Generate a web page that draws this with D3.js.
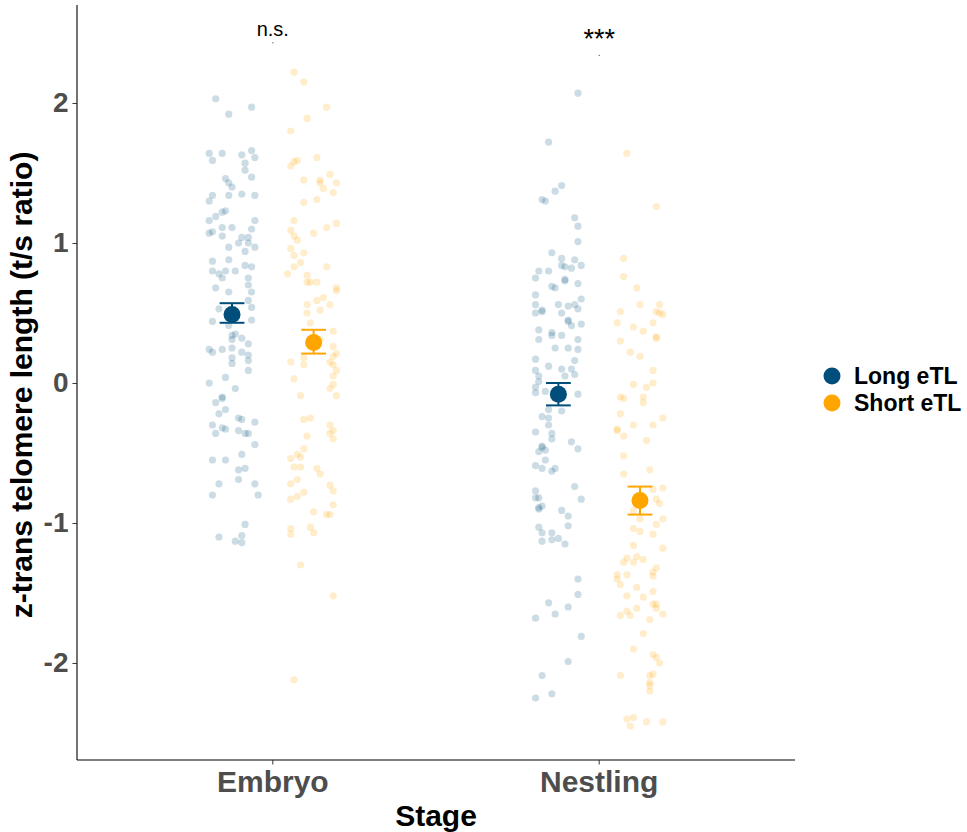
<!DOCTYPE html>
<html>
<head>
<meta charset="utf-8">
<script src="https://cdn.jsdelivr.net/npm/d3@7"></script>
<style>
	body { margin: 0; background: #fff; }
	svg { display: block; font-family: "Liberation Sans", Arial, sans-serif; }
</style>
</head>
<body>
<svg id="chart" width="967" height="832"></svg>
<script>
const stages = ["Embryo", "Nestling"];
const groups = ["Long eTL", "Short eTL"];
const groupColors = ["#004E7C", "#FFA500"];

// raw points: [jitter (x units), z-trans telomere length]
const embryoLong = [
	[-0.05, 2.03], [0.06, 1.97], [-0.01, 1.92], [-0.07, 1.64], [-0.03, 1.64], [0.03, 1.63], [0.06, 1.66],
	[-0.06, 1.59], [0.07, 1.61], [0.04, 1.57], [0.04, 1.52], [-0.02, 1.46], [0.06, 1.47], [-0.01, 1.43],
	[0.0, 1.4], [-0.06, 1.34], [-0.07, 1.3], [-0.01, 1.34], [0.03, 1.35], [0.07, 1.34], [-0.02, 1.23],
	[-0.03, 1.22], [-0.05, 1.19], [-0.07, 1.16], [0.07, 1.16], [0.0, 1.11], [-0.03, 1.11], [0.06, 1.1],
	[-0.07, 1.07], [-0.06, 1.08], [-0.03, 1.05], [0.03, 1.04], [0.05, 1.04], [0.02, 1.0], [0.05, 1.0],
	[0.07, 0.97], [-0.01, 0.97], [0.04, 0.94], [-0.06, 0.87], [-0.01, 0.88], [0.04, 0.84], [0.06, 0.83],
	[-0.06, 0.8], [-0.04, 0.78], [-0.02, 0.8], [0.01, 0.8], [0.05, 0.75], [-0.03, 0.75], [0.05, 0.7],
	[-0.05, 0.68], [0.06, 0.65], [-0.01, 0.65], [0.05, 0.59], [-0.04, 0.53], [0.06, 0.54], [0.06, 0.45],
	[-0.06, 0.44], [-0.01, 0.41], [0.0, 0.34], [0.01, 0.35], [0.03, 0.32], [0.0, 0.31], [0.05, 0.28],
	[-0.07, 0.24], [-0.06, 0.22], [-0.03, 0.24], [0.0, 0.25], [0.03, 0.22], [0.05, 0.2], [0.05, 0.16],
	[0.0, 0.18], [0.0, 0.14], [0.05, 0.09], [-0.07, 0.0], [-0.02, 0.04], [0.01, -0.04], [-0.03, -0.1],
	[-0.03, -0.11], [-0.05, -0.14], [-0.02, -0.19], [-0.04, -0.22], [0.02, -0.25], [0.03, -0.26],
	[0.07, -0.28], [-0.06, -0.3], [-0.03, -0.32], [-0.02, -0.33], [-0.05, -0.36], [0.02, -0.34],
	[0.05, -0.36], [0.04, -0.36], [0.07, -0.44], [-0.06, -0.55], [-0.02, -0.55], [0.03, -0.51],
	[0.02, -0.62], [0.04, -0.61], [0.02, -0.69], [-0.04, -0.72], [0.07, -0.72], [-0.06, -0.8],
	[0.08, -0.8], [0.04, -1.01], [-0.04, -1.1], [0.03, -1.09], [0.01, -1.13], [0.03, -1.14]
];
const embryoShort = [
	[-0.06, 2.22], [-0.03, 2.15], [0.04, 1.97], [-0.02, 1.89], [-0.07, 1.8], [0.01, 1.61], [-0.07, 1.55],
	[-0.06, 1.58], [-0.05, 1.59], [0.05, 1.49], [0.02, 1.45], [0.02, 1.43], [0.07, 1.43], [0.03, 1.39],
	[0.06, 1.36], [-0.03, 1.45], [0.01, 1.31], [-0.03, 1.29], [-0.06, 1.16], [-0.07, 1.09], [0.07, 1.14],
	[0.04, 1.11], [0.0, 1.07], [-0.06, 1.05], [-0.05, 1.02], [-0.07, 0.96], [-0.06, 0.91], [-0.03, 0.93],
	[-0.04, 0.86], [-0.06, 0.83], [-0.08, 0.78], [0.04, 0.83], [-0.02, 0.77], [-0.02, 0.72], [-0.01, 0.72],
	[0.01, 0.72], [0.07, 0.68], [0.07, 0.66], [-0.02, 0.56], [0.01, 0.59], [0.03, 0.61], [0.05, 0.56],
	[0.02, 0.52], [-0.02, 0.5], [-0.01, 0.43], [0.06, 0.37], [0.02, 0.31], [0.06, 0.26], [0.07, 0.21],
	[0.06, 0.19], [-0.03, 0.18], [-0.07, 0.15], [-0.03, 0.13], [0.05, 0.15], [0.06, 0.13], [0.07, 0.09],
	[-0.06, 0.03], [0.06, 0.05], [0.06, -0.01], [0.05, -0.04], [0.07, -0.09], [-0.04, -0.09],
	[-0.03, -0.26], [-0.01, -0.25], [0.05, -0.3], [0.05, -0.36], [0.06, -0.34], [0.06, -0.4], [-0.02, -0.38],
	[-0.03, -0.47], [-0.05, -0.51], [-0.04, -0.53], [-0.07, -0.54], [-0.06, -0.6], [-0.04, -0.6], [0.01, -0.61],
	[0.02, -0.65], [-0.05, -0.69], [-0.07, -0.72], [0.05, -0.73], [0.06, -0.77], [-0.03, -0.78], [-0.05, -0.81],
	[-0.07, -0.83], [0.06, -0.87], [0.0, -0.92], [0.05, -0.94], [0.04, -0.94], [-0.07, -1.04], [-0.07, -1.08],
	[-0.01, -1.03], [0.0, -1.07], [-0.04, -1.3], [0.06, -1.52], [-0.06, -2.12]
];
const nestlingLong = [
	[0.06, 2.07], [-0.03, 1.72], [0.01, 1.41], [-0.01, 1.37], [-0.05, 1.31], [-0.04, 1.3], [0.05, 1.18],
	[0.06, 1.12], [0.06, 1.01], [-0.02, 0.93], [0.01, 0.89], [0.05, 0.88], [0.07, 0.84], [0.01, 0.84],
	[0.02, 0.83], [0.04, 0.82], [-0.06, 0.8], [-0.03, 0.8], [-0.07, 0.75], [0.02, 0.74], [0.02, 0.73],
	[0.06, 0.71], [-0.02, 0.69], [-0.01, 0.68], [-0.07, 0.63], [0.07, 0.6], [-0.07, 0.56], [-0.05, 0.52],
	[-0.05, 0.51], [-0.07, 0.5], [0.0, 0.56], [0.03, 0.55], [0.05, 0.56], [0.06, 0.53], [0.01, 0.5],
	[0.03, 0.45], [0.03, 0.44], [0.04, 0.41], [0.07, 0.42], [-0.06, 0.38], [-0.02, 0.36], [-0.02, 0.34],
	[0.01, 0.34], [-0.06, 0.31], [0.06, 0.31], [-0.01, 0.25], [0.03, 0.25], [0.06, 0.24], [-0.07, 0.17],
	[0.05, 0.16], [-0.03, 0.12], [0.01, 0.1], [-0.07, 0.09], [0.04, 0.1], [0.05, 0.06], [-0.06, 0.05],
	[0.02, 0.05], [-0.06, 0.01], [-0.07, -0.03], [-0.07, -0.07], [-0.04, -0.06], [0.06, -0.08],
	[0.01, -0.2], [-0.03, -0.19], [-0.05, -0.24], [-0.03, -0.25], [-0.03, -0.3], [-0.07, -0.35],
	[-0.02, -0.36], [-0.02, -0.4], [0.04, -0.42], [0.06, -0.47], [-0.05, -0.45], [-0.05, -0.46],
	[-0.06, -0.49], [-0.04, -0.48], [-0.04, -0.55], [-0.07, -0.59], [-0.05, -0.61], [-0.02, -0.63],
	[-0.01, -0.61], [0.05, -0.74], [-0.07, -0.77], [-0.07, -0.82], [-0.06, -0.82], [0.07, -0.83],
	[-0.06, -0.89], [-0.06, -0.9], [-0.05, -0.88], [0.01, -0.91], [0.03, -0.95], [0.03, -1.02],
	[-0.06, -1.03], [-0.05, -1.07], [-0.02, -1.07], [-0.02, -1.12], [0.0, -1.11], [-0.05, -1.13],
	[0.02, -1.15], [0.06, -1.4], [0.06, -1.51], [-0.03, -1.57], [-0.01, -1.65], [0.03, -1.6],
	[-0.07, -1.68], [0.07, -1.81], [0.03, -1.99], [-0.05, -2.09], [-0.07, -2.25], [-0.02, -2.22]
];
const nestlingShort = [
	[-0.04, 1.64], [0.05, 1.26], [-0.05, 0.89], [-0.05, 0.76], [-0.01, 0.68], [0.0, 0.56], [0.06, 0.56],
	[-0.06, 0.51], [0.05, 0.51], [0.06, 0.5], [0.07, 0.49], [-0.07, 0.43], [0.04, 0.43], [-0.02, 0.4],
	[0.01, 0.37], [-0.06, 0.3], [0.05, 0.33], [0.05, 0.32], [-0.03, 0.22], [0.0, 0.19], [0.04, 0.09],
	[-0.02, -0.01], [0.04, 0.0], [0.02, -0.03], [-0.06, -0.1], [-0.05, -0.11], [0.01, -0.1], [0.01, -0.14],
	[-0.06, -0.22], [0.07, -0.25], [-0.02, -0.3], [0.04, -0.3], [-0.07, -0.33], [-0.07, -0.34],
	[-0.05, -0.38], [0.02, -0.41], [-0.05, -0.52], [-0.05, -0.65], [0.03, -0.62], [0.04, -0.76],
	[0.07, -0.75], [0.05, -0.83], [0.06, -0.86], [-0.02, -0.91], [0.0, -0.97], [0.07, -0.97], [-0.02, -1.04],
	[0.0, -1.06], [0.05, -1.01], [0.04, -1.08], [0.07, -1.18], [-0.02, -1.16], [-0.05, -1.28], [-0.04, -1.25],
	[-0.02, -1.28], [-0.01, -1.24], [0.01, -1.26], [0.05, -1.32], [0.04, -1.35], [0.04, -1.38], [-0.07, -1.37],
	[-0.07, -1.4], [-0.04, -1.37], [-0.06, -1.44], [-0.01, -1.46], [0.04, -1.49], [-0.04, -1.52], [0.01, -1.53],
	[0.04, -1.58], [0.05, -1.58], [0.05, -1.61], [-0.01, -1.61], [-0.04, -1.63], [-0.03, -1.66], [0.07, -1.65],
	[-0.06, -1.66], [0.03, -1.69], [0.01, -1.79], [-0.02, -1.9], [0.04, -1.94], [0.05, -1.96], [0.06, -2.0],
	[-0.06, -2.09], [0.03, -2.09], [0.04, -2.08], [0.03, -2.14], [0.03, -2.16], [0.03, -2.2], [-0.04, -2.4],
	[-0.02, -2.39], [-0.03, -2.45], [0.02, -2.42], [0.07, -2.42]
];

// summary: mean and SE bounds, order [Embryo Long, Embryo Short, Nestling Long, Nestling Short]
const meanValues = [0.49, 0.29, -0.08, -0.84];
const seLow = [0.43, 0.21, -0.16, -0.94];
const seHigh = [0.57, 0.38, 0.0, -0.74];

const signifLabels = ["n.s.", "***"];
const signifY = [2.43, 2.34];

const yTicks = [-2, -1, 0, 1, 2];

const svg = d3.select("#chart");
const margin = { left: 77, right: 795, top: 5, bottom: 760 };
const dodge = 0.125;

const x = d3.scaleLinear().domain([0.4, 2.6]).range([margin.left, margin.right]);
const y = d3.scaleLinear().domain([-2.693, 2.7]).range([margin.bottom, margin.top]);

const rawSets = [
	{ stage: 0, group: 0, pts: embryoLong },
	{ stage: 0, group: 1, pts: embryoShort },
	{ stage: 1, group: 0, pts: nestlingLong },
	{ stage: 1, group: 1, pts: nestlingShort },
];
const center = (s, g) => s + 1 + (g === 0 ? -dodge : dodge);

// jittered raw points
const g_raw = svg.append("g").attr("class", "raw");
rawSets.forEach((set) => {
	g_raw
		.selectAll(null)
		.data(set.pts)
		.join("circle")
		.attr("cx", (d) => x(center(set.stage, set.group) + d[0]))
		.attr("cy", (d) => y(d[1]))
		.attr("r", 3.6)
		.attr("fill", groupColors[set.group])
		.attr("fill-opacity", 0.2);
});

// mean +- SE
const summary = rawSets.map((set, i) => ({
	cx: center(set.stage, set.group),
	group: set.group,
	mean: meanValues[i],
	lo: seLow[i],
	hi: seHigh[i],
}));
const g_sum = svg.append("g").attr("class", "summary");
const halfCap = 0.038;
summary.forEach((d) => {
	const col = groupColors[d.group];
	g_sum.append("line").attr("x1", x(d.cx)).attr("x2", x(d.cx)).attr("y1", y(d.lo)).attr("y2", y(d.hi))
		.attr("stroke", col).attr("stroke-width", 2);
	[d.lo, d.hi].forEach((v) => {
		g_sum.append("line").attr("x1", x(d.cx - halfCap)).attr("x2", x(d.cx + halfCap))
			.attr("y1", y(v)).attr("y2", y(v)).attr("stroke", col).attr("stroke-width", 2);
	});
	g_sum.append("circle").attr("cx", x(d.cx)).attr("cy", y(d.mean)).attr("r", 8.5).attr("fill", col);
});

// axes
const axisLeft = d3.axisLeft(y).tickValues(yTicks).tickFormat((d) => String(d)).tickSize(4.5).tickPadding(4);
const gy = svg.append("g").attr("transform", `translate(${margin.left},0)`).call(axisLeft);
gy.select(".domain").attr("d", `M0,${margin.top}V${margin.bottom}`).attr("stroke", "#000").attr("stroke-width", 1.1);
gy.selectAll(".tick line").attr("stroke", "#333");
gy.selectAll(".tick text")
	.attr("font-size", 28).attr("font-weight", "bold").attr("fill", "#4D4D4D")
	.attr("font-family", "Liberation Sans, Arial, sans-serif");

const xBand = d3.scaleOrdinal().domain(stages).range([x(1), x(2)]);
const gx = svg.append("g").attr("transform", `translate(0,${margin.bottom})`);
gx.append("line").attr("x1", margin.left).attr("x2", margin.right).attr("y1", 0).attr("y2", 0)
	.attr("stroke", "#000").attr("stroke-width", 1.1);
stages.forEach((s) => {
	gx.append("line").attr("x1", xBand(s)).attr("x2", xBand(s)).attr("y1", 0).attr("y2", 4.5).attr("stroke", "#333");
	gx.append("text").attr("x", xBand(s)).attr("y", 32).attr("text-anchor", "middle")
		.attr("font-size", 30).attr("font-weight", "bold").attr("fill", "#4D4D4D").text(s);
});

svg.append("text").attr("x", x(1.5)).attr("y", 826).attr("text-anchor", "middle")
	.attr("font-size", 30).attr("font-weight", "bold").attr("fill", "#000").text("Stage");

svg.append("text")
	.attr("transform", `translate(32,${y(0) + 2}) rotate(-90)`)
	.attr("text-anchor", "middle")
	.attr("font-size", 30).attr("font-weight", "bold").attr("fill", "#000")
	.text("z-trans telomere length (t/s ratio)");

// significance annotations
signifLabels.forEach((lab, i) => {
	const cx = x(i + 1);
	svg.append("rect").attr("x", cx - 0.5).attr("y", y(signifY[i]) - 0.5).attr("width", 1).attr("height", 1).attr("fill", "#333");
	svg.append("text").attr("x", cx).attr("y", i === 0 ? 36 : 48).attr("text-anchor", "middle")
		.attr("font-size", i === 0 ? 20 : 27).attr("fill", "#000").text(lab);
});

// legend
const legend = svg.append("g").attr("transform", "translate(832,376)");
groups.forEach((gname, i) => {
	const row = legend.append("g").attr("transform", `translate(0,${i * 27})`);
	row.append("circle").attr("r", 8.5).attr("fill", groupColors[i]);
	row.append("text").attr("x", 22).attr("y", 8).attr("font-size", 23).attr("font-weight", "bold")
		.attr("fill", "#000").text(gname);
});
</script>
</body>
</html>
